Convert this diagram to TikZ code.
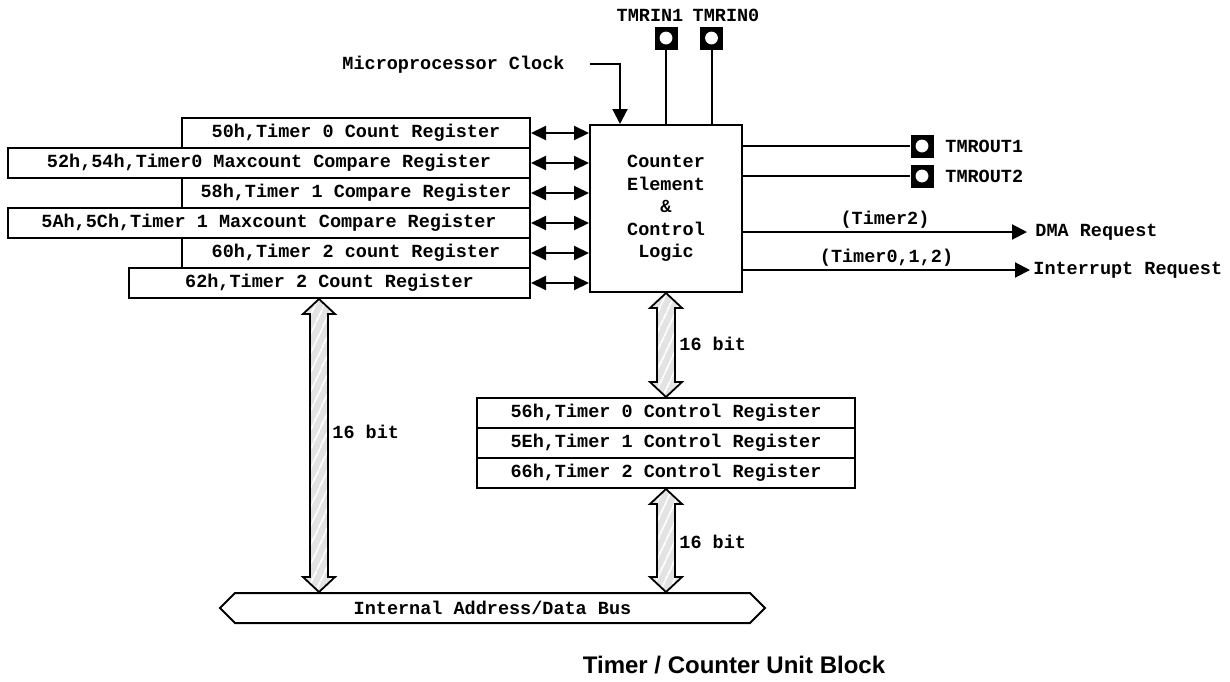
\documentclass[tikz,border=0pt]{standalone}
\usepackage{fontspec}
\setsansfont{Liberation Sans}
\setmonofont{Liberation Mono}
\usetikzlibrary{arrows.meta, positioning, calc, shapes.symbols, patterns.meta}
\newcommand{\regfont}{\ttfamily\bfseries\fontsize{9.25}{11.25}\selectfont}
\tikzset{
  %% register boxes
  reg/.style={rectangle, draw, line width=1pt, minimum height=15pt,
              inner sep=0pt, font=\regfont},
  blk/.style={rectangle, draw, line width=1pt, inner sep=0pt,
              align=center, font=\regfont},
  %% pins (black square, white hole)
  pin/.style={rectangle, fill=black, minimum size=11.5pt, inner sep=0pt,
              path picture={\fill[white] (path picture bounding box.center) circle (3.2pt);}},
  lbl/.style={font=\regfont, inner sep=0pt},
  %% connectors
  wire/.style={draw, line width=1pt},
  sig/.style={wire, -{Triangle[length=7.5pt, width=7.5pt]}},
  biarr/.style={wire, {Triangle[length=7.5pt, width=7pt]}-{Triangle[length=7.5pt, width=7pt]}},
  fatarr/.style={draw, line width=0.9pt, preaction={fill=gray!22},
                 pattern={Lines[angle=65, distance=4pt, line width=0.9pt]},
                 pattern color=white},
  busnode/.style={signal, signal to=east and west, signal pointer angle=90,
                  draw, line width=1pt, minimum width=272.5pt,
                  minimum height=15pt, inner sep=0pt, font=\regfont},
}
%% hollow 16-bit bus arrow, vertical, from #1 (top) to #2 (bottom)
\newcommand{\fatbus}[2]{%
  \path[fatarr] let \p1=(#1), \p2=(#2) in
    (\x1,\y1) -- (\x1+8pt,\y1-7.5pt) -- (\x1+4.5pt,\y1-7.5pt)
    -- (\x1+4.5pt,\y2+7.5pt) -- (\x1+8pt,\y2+7.5pt) -- (\x1,\y2)
    -- (\x1-8pt,\y2+7.5pt) -- (\x1-4.5pt,\y2+7.5pt)
    -- (\x1-4.5pt,\y1-7.5pt) -- (\x1-8pt,\y1-7.5pt) -- cycle;}
\begin{document}
\begin{tikzpicture}[x=0.5pt, y=-0.5pt]
\useasboundingbox (0,0) rectangle (1230,681);

%% ==========================================================
%%  REGISTER STACK (left)
%% ==========================================================
\node[reg, minimum width=174pt]   (r1) at (356,133)   {50h,Timer 0 Count Register};
\node[reg, minimum width=261pt]   (r2) at (269,163)   {52h,54h,Timer0 Maxcount Compare Register};
\node[reg, minimum width=174pt]   (r3) at (356,193)   {58h,Timer 1 Compare Register};
\node[reg, minimum width=261pt]   (r4) at (269,223)   {5Ah,5Ch,Timer 1 Maxcount Compare Register};
\node[reg, minimum width=174pt]   (r5) at (356,253)   {60h,Timer 2 count Register};
\node[reg, minimum width=200.5pt] (r6) at (329.5,283) {62h,Timer 2 Count Register};

%% ==========================================================
%%  COUNTER ELEMENT
%% ==========================================================
\node[blk, minimum width=76pt, minimum height=83.5pt] (cel) at (666,208.5)
  {Counter\\Element\\\&\\Control\\Logic};

%% -- register <-> counter --
\draw[biarr] (r1.east) -- (r1.east -| cel.west);
\draw[biarr] (r2.east) -- (r2.east -| cel.west);
\draw[biarr] (r3.east) -- (r3.east -| cel.west);
\draw[biarr] (r4.east) -- (r4.east -| cel.west);
\draw[biarr] (r5.east) -- (r5.east -| cel.west);
\draw[biarr] (r6.east) -- (r6.east -| cel.west);

%% -- clock --
\node[lbl] (clk) at (453.5,65) {Microprocessor Clock};
\coordinate (clkin) at (590,64);
\draw[wire, -{Triangle[length=7.5pt, width=7.5pt]}] (clkin) -| ([xshift=-23pt]cel.north);

%% -- timer inputs --
\node[pin] (in1) at (666,38) {};
\node[pin] (in0) at (711.5,38) {};
\node[lbl] (tin1) at (650,15) {TMRIN1};
\node[lbl] (tin0) at (726,15) {TMRIN0};
\draw[wire] (in1) -- (in1 |- cel.north);
\draw[wire] (in0) -- (in0 |- cel.north);

%% -- timer outputs --
\node[pin] (out1) at (922,146) {};
\node[pin] (out2) at (922,176) {};
\node[lbl, anchor=west] (tout1) at (945,146) {TMROUT1};
\node[lbl, anchor=west] (tout2) at (945,176) {TMROUT2};
\draw[wire] (cel.east |- out1) -- (out1);
\draw[wire] (cel.east |- out2) -- (out2);

%% -- requests --
\node[lbl, anchor=west] (dma) at (1035,232) {DMA Request};
\node[lbl, anchor=west] (irq) at (1033,270) {Interrupt Request};
\draw[sig] (cel.east |- dma.west) -- ([xshift=-4pt]dma.west)
  node[lbl, midway, yshift=6pt] {(Timer2)};
\draw[sig] (cel.east |- irq.west) -- ([xshift=-1.5pt]irq.west)
  node[lbl, midway, yshift=6pt] {(Timer0,1,2)};

%% ==========================================================
%%  CONTROL REGISTERS + BUS
%% ==========================================================
\node[reg, minimum width=189pt] (ctl1) at (666,413) {56h,Timer 0 Control Register};
\node[reg, minimum width=189pt] (ctl2) at (666,443) {5Eh,Timer 1 Control Register};
\node[reg, minimum width=189pt] (ctl3) at (666,473) {66h,Timer 2 Control Register};

\node[busnode] (bus) at (492.5,608) {Internal Address/Data Bus};

%% -- 16 bit paths --
\coordinate (lb) at (319,0);
\fatbus{r6.south -| lb}{bus.north -| lb}
\fatbus{cel.south}{ctl1.north}
\fatbus{ctl3.south}{bus.north -| ctl3}
\node[lbl, anchor=west] (w1) at (332,432) {16 bit};
\node[lbl, anchor=west] (w2) at (679,344) {16 bit};
\node[lbl, anchor=west] (w3) at (679,542) {16 bit};

%% -- caption --
\node[font=\sffamily\bfseries\fontsize{12}{14}\selectfont] (ttl) at (734,665)
  {Timer / Counter Unit Block};

\end{tikzpicture}
\end{document}
